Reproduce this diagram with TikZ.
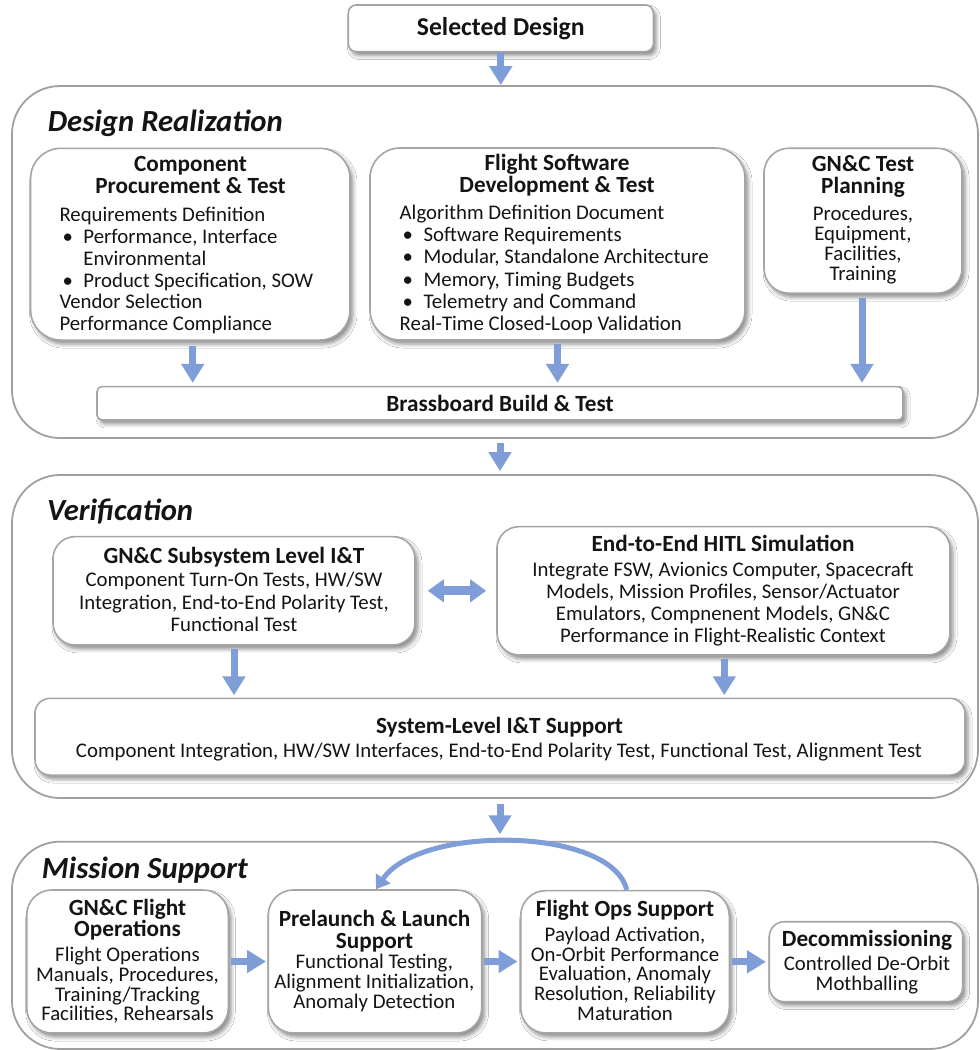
\documentclass[tikz,border=0pt]{standalone}
\usepackage{fontspec}
\setmainfont{Carlito}
\usetikzlibrary{arrows.meta,shadows.blur}

\definecolor{flowblue}{RGB}{127,158,216}
\definecolor{rimgray}{RGB}{160,160,160}
\definecolor{cardgray}{RGB}{165,165,165}
\definecolor{inkblack}{RGB}{20,20,20}

\newcommand{\bul}{\hspace*{3pt}\makebox[21pt][l]{\textbullet}}

% multi-line text nodes are placed by the baseline of their last line
\tikzset{
  stage/.style={draw=rimgray, line width=1.8pt, rounded corners=48pt, inner sep=0pt},
  card/.style={draw=cardgray, line width=1.6pt, fill=white, inner sep=0pt,
    blur shadow={shadow xshift=3pt, shadow yshift=-4pt, shadow blur radius=4pt, shadow opacity=45}},
  sectitle/.style={anchor=base west, inner sep=0pt, text=inkblack,
    font=\fontsize{30.7}{32}\selectfont\bfseries\itshape},
  hdtext/.style={anchor=base, inner sep=0pt, align=center, text=inkblack,
    font=\fontsize{23.2}{#1}\selectfont\bfseries},
  hdtext/.default=22,
  bdtext/.style={inner sep=0pt, text=inkblack, font=\fontsize{20.8}{#1}\selectfont},
  bdtext/.default=22,
  bdmid/.style={bdtext=#1, anchor=base, align=center},
  bdmid/.default=22,
  bdleft/.style={bdtext=#1, anchor=base west, align=left},
  bdleft/.default=22,
  flow/.style={draw=flowblue, line width=7pt,
    -{Triangle[width=22pt,length=19pt]}},
  twoway/.style={draw=flowblue, line width=9pt,
    {Triangle[width=22pt,length=16pt]}-{Triangle[width=22pt,length=16pt]}},
  loopback/.style={draw=flowblue, line width=5pt,
    -{Triangle[width=17pt,length=13pt]}},
}

\begin{document}
\begin{tikzpicture}[x=1pt, y=-1pt]
\useasboundingbox (0,0) rectangle (980,1050);
\fill[white] (0,0) rectangle (980,1050);

% ---------- stage frames ----------
\node[stage, minimum width=966pt, minimum height=352pt] (realize) at (495,262) {};
\node[stage, minimum width=966pt, minimum height=323pt] (verify) at (495,636.5) {};
\node[stage, minimum width=966pt, minimum height=207.3pt] (mission) at (495,945.3) {};

\node[sectitle] (realize-t) at (47.7,131.7) {Design Realization};
\node[sectitle] (verify-t) at (47,520) {Verification};
\node[sectitle] (mission-t) at (41.7,878) {Mission Support};

% ---------- entry ----------
\node[card, rounded corners=8pt, minimum width=305pt, minimum height=46.7pt,
  text=inkblack, font=\fontsize{25.7}{27}\selectfont\bfseries] (sel) at (500.8,28.3) {Selected Design};

% ---------- design realization ----------
\node[card, rounded corners=30pt, minimum width=319.3pt, minimum height=191.7pt] (comp) at (190.3,244.2) {};
\node[hdtext] (comp-h) at (190.5,193.7) {Component\\Procurement \& Test};
\node[bdleft=21.8] (comp-b) at (59.3,330.7) {Requirements Definition\\
  \bul Performance, Interface\\
  \hspace*{24pt}Environmental\\
  \bul Product Specification, SOW\\
  Vendor Selection\\
  Performance Compliance};

\node[card, rounded corners=30pt, minimum width=375pt, minimum height=192pt] (fsw) at (557.5,244) {};
\node[hdtext] (fsw-h) at (557,192) {Flight Software\\Development \& Test};
\node[bdleft=22.3] (fsw-b) at (399.5,330.8) {Algorithm Definition Document\\
  \bul Software Requirements\\
  \bul Modular, Standalone Architecture\\
  \bul Memory, Timing Budgets\\
  \bul Telemetry and Command\\
  Real-Time Closed-Loop Validation};

\node[card, rounded corners=25pt, minimum width=198pt, minimum height=145pt] (plan) at (863,220.7) {};
\node[hdtext=21.6] (plan-h) at (863,193.3) {GN\&C Test\\Planning};
\node[bdmid=20] (plan-b) at (863,280) {Procedures,\\Equipment,\\Facilities,\\Training};

\node[card, rounded corners=5pt, minimum width=806pt, minimum height=33.3pt,
  text=inkblack, font=\fontsize{23.2}{24}\selectfont\bfseries] (brass) at (500,403.3) {Brassboard Build \& Test};

% ---------- verification ----------
\node[card, rounded corners=22pt, minimum width=362pt, minimum height=108.3pt] (sub) at (234,590.8) {};
\node[hdtext] (sub-h) at (234,563.3) {GN\&C Subsystem Level I\&T};
\node[bdmid=22.5] (sub-b) at (234,631.7) {Component Turn-On Tests, HW/SW\\
  Integration, End-to-End Polarity Test,\\Functional Test};

\node[card, rounded corners=22pt, minimum width=453pt, minimum height=128.3pt] (hitl) at (723.5,590.8) {};
\node[hdtext] (hitl-h) at (723,551.7) {End-to-End HITL Simulation};
\node[bdmid=22.3] (hitl-b) at (723,642.9) {Integrate FSW, Avionics Computer, Spacecraft\\
  Models, Mission Profiles, Sensor/Actuator\\
  Emulators, Compnenent Models, GN\&C\\
  Performance in Flight-Realistic Context};

\node[card, rounded corners=15pt, minimum width=930pt, minimum height=76.7pt] (sys) at (500,736.7) {};
\node[hdtext] (sys-h) at (499.5,733.3) {System-Level I\&T Support};
\node[bdmid] (sys-b) at (499,757.3) {Component Integration, HW/SW Interfaces, End-to-End Polarity Test, Functional Test, Alignment Test};

% ---------- mission support ----------
\node[card, rounded corners=25pt, minimum width=201.6pt, minimum height=143pt] (gfo) at (127.5,961.5) {};
\node[hdtext=21.7] (gfo-h) at (127.5,936.7) {GN\&C Flight\\Operations};
\node[bdmid=19.7] (gfo-b) at (127.5,1020.8) {Flight Operations\\Manuals, Procedures,\\Training/Tracking\\Facilities, Rehearsals};

\node[card, rounded corners=25pt, minimum width=213.4pt, minimum height=143pt] (pre) at (375,961.5) {};
\node[hdtext=21.6] (pre-h) at (374.5,948.3) {Prelaunch \& Launch\\Support};
\node[bdmid=20] (pre-b) at (374.3,1008.3) {Functional Testing,\\Alignment Initialization,\\Anomaly Detection};

\node[card, rounded corners=25pt, minimum width=208.6pt, minimum height=142.3pt] (fos) at (625,961.8) {};
\node[hdtext] (fos-h) at (625,916.7) {Flight Ops Support};
\node[bdmid=19.6] (fos-b) at (625,1020.1) {Payload Activation,\\On-Orbit Performance\\Evaluation, Anomaly\\Resolution, Reliability\\Maturation};

\node[card, rounded corners=15pt, minimum width=193.4pt, minimum height=80pt] (dec) at (866,961.7) {};
\node[hdtext] (dec-h) at (867,946.7) {Decommissioning};
\node[bdmid=19.3] (dec-b) at (867,990) {Controlled De-Orbit\\Mothballing};

% ---------- connectors ----------
\draw[flow] (sel.south) -- (sel.south |- realize.north);
\draw[flow, shorten <=5pt, shorten >=3pt] ([xshift=2.4pt]comp.south) -- ([xshift=2.4pt]comp.south |- brass.north);
\draw[flow, shorten <=3pt, shorten >=3pt] (fsw.south) -- (fsw.south |- brass.north);
\draw[flow, shorten <=4pt, shorten >=3pt] ([xshift=-1pt]plan.south) -- ([xshift=-1pt]plan.south |- brass.north);
\draw[flow, shorten <=4pt, shorten >=3pt] (brass.south |- realize.south) -- (brass.south |- verify.north);

\draw[twoway, shorten <=12pt, shorten >=10pt] (sub.east) -- (sub.east -| hitl.west);
\draw[flow, shorten <=3pt, shorten >=2.3pt] (sub.south) -- (sub.south |- sys.north);
\draw[flow, shorten <=3pt, shorten >=2.3pt] ([xshift=0.8pt]hitl.south) -- ([xshift=0.8pt]hitl.south |- sys.north);
\draw[flow, shorten <=5pt, shorten >=6.5pt] (sys.south |- verify.south) -- (sys.south |- mission.north);

\draw[flow, shorten <=2pt, shorten >=1.5pt] (gfo.east) -- (gfo.east -| pre.west);
\draw[flow, shorten <=1.5pt, shorten >=2.4pt] (pre.east) -- (pre.east -| fos.west);
\draw[flow, shorten <=1.5pt, shorten >=2.6pt] (fos.east) -- (fos.east -| dec.west);

\draw[loopback] ([xshift=1.7pt]fos.north) .. controls +(-15,-63) and +(44,-65) .. ([xshift=1pt]pre.north);
\end{tikzpicture}
\end{document}
